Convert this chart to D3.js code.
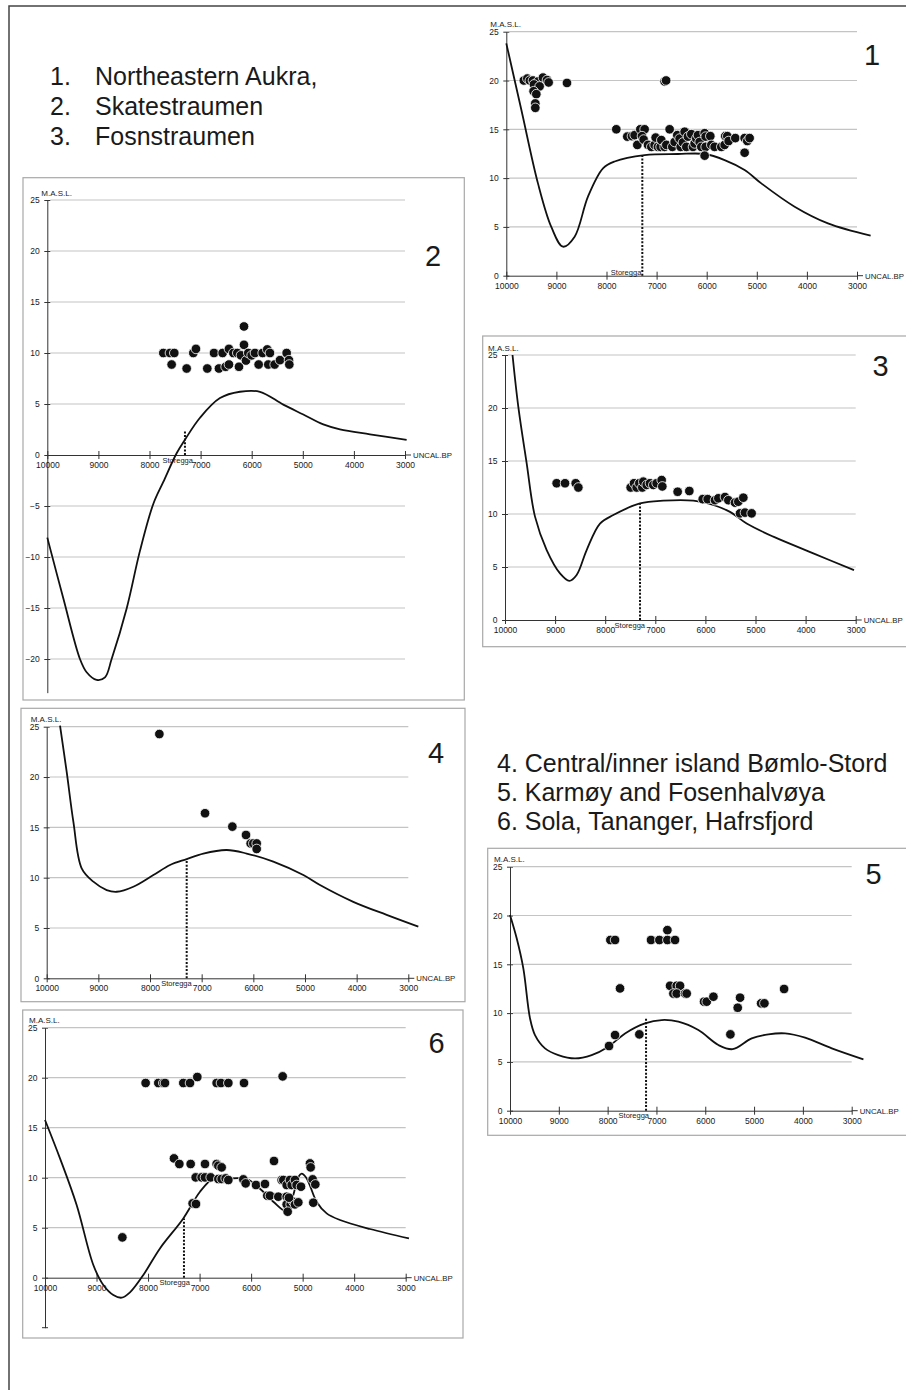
<!DOCTYPE html>
<html>
<head>
<meta charset="utf-8">
<script src="https://cdn.jsdelivr.net/npm/d3@7"></script>
<style>
  body { margin: 0; background: #fff; }
  text { font-family: "Liberation Sans", Arial, sans-serif; fill: #1a1a1a; }
</style>
</head>
<body>
<svg id="fig" width="906" height="1390"></svg>
<script>
// ---- data ----
const yearTicks = [10000, 9000, 8000, 7000, 6000, 5000, 4000, 3000];
const heightTicks = [0, 5, 10, 15, 20, 25];
const deepTicks = [-20, -15, -10, -5, 0, 5, 10, 15, 20, 25];
const regionsLeft = ["Northeastern Aukra,", "Skatestraumen", "Fosnstraumen"];
const regionsRight = ["4. Central/inner island Bømlo-Stord", "5. Karmøy and Fosenhalvøya", "6. Sola, Tananger, Hafrsfjord"];
const storeggaYear = [7285, 7306, 7305, 7290, 7213, 7303];
const storeggaTop = [12.36, 2.4, 11.0, 11.85, 9.5, 5.93];

// 1. Northeastern Aukra
const curve1 = [[10000,23.8],[9700,17],[9368,9.46],[9102,5.0],[8869,2.97],[8636,4.0],[8370,8.1],[8070,11.0],[7838,11.7],[7239,12.36],[6574,12.47],[6041,12.47],[5642,11.85],[5243,10.83],[4910,9.46],[4245,7.07],[3580,5.36],[2728,4.1]];
const sites1 = [[9650,20.0],[9580,20.2],[9530,20.0],[9468,20.0],[9368,19.9],[9268,20.3],[9188,20.05],[9155,19.8],[9448,19.6],[9335,19.4],[9455,18.9],[9401,18.6],[9421,17.65],[9421,17.2],[8789,19.75],[6840,19.9],[6810,20.0],
  [7804,15.0],[7585,14.25],[7492,14.3],[7438,14.4],[7385,13.4],[7325,15.0],[7239,15.0],[7292,14.3],[7259,13.95],[7172,13.4],[7106,13.2],[7040,13.4],[7019,14.15],[6973,13.2],[6920,13.2],[6906,13.9],[6840,13.2],[6806,13.4],[6740,15.0],[6687,13.2],[6640,13.7],[6587,14.4],[6540,14.05],[6520,13.2],[6474,13.65],[6440,14.75],[6407,13.2],[6374,14.25],[6307,14.5],[6274,13.2],[6241,13.55],[6207,14.05],[6174,14.4],[6141,13.7],[6108,13.2],[6041,14.6],[6021,14.25],[6021,13.2],[5928,14.3],[5908,13.4],[6041,12.3],[5842,13.2],[5709,13.2],[5642,13.4],[5629,14.3],[5589,14.3],[5562,13.8],[5429,14.1],[5243,14.1],[5243,12.6],[5190,13.8],[5143,14.1]];

// 2. Skatestraumen
const curve2 = [[10000,-8.1],[9687,-14.05],[9361,-20.0],[9230,-21.3],[9035,-22.05],[8871,-21.8],[8741,-20.0],[8447,-15.04],[8187,-9.4],[7926,-4.8],[7730,-2.64],[7469,0.17],[7306,1.5],[7012,3.65],[6621,5.58],[6230,6.2],[5838,6.2],[5382,4.94],[4990,3.97],[4599,3.0],[4273,2.52],[3686,2.03],[2968,1.48]];
const sites2 = [[7730,10.0],[7600,10.0],[7515,10.0],[7567,8.87],[7273,8.48],[7143,10.0],[7091,10.4],[6869,8.48],[6738,10.0],[6641,8.48],[6569,10.0],[6510,8.65],[6445,10.4],[6445,8.87],[6360,10.0],[6282,10.0],[6249,8.65],[6210,9.77],[6151,12.6],[6151,10.8],[6112,9.26],[6067,10.0],[6001,9.77],[5936,10.0],[5864,8.87],[5786,10.0],[5695,10.35],[5675,8.87],[5643,10.0],[5551,8.87],[5447,9.3],[5316,10.0],[5271,9.3],[5264,8.87]];

// 3. Fosnstraumen
const curve3 = [[9850,25.0],[9734,20.1],[9568,14.8],[9401,9.75],[9168,6.6],[8902,4.4],[8716,3.7],[8570,4.25],[8370,6.6],[8104,9.1],[7838,9.9],[7305,11.0],[6840,11.26],[6241,11.26],[5842,10.85],[5509,10.2],[5176,9.1],[4644,7.86],[3846,6.29],[3034,4.7]];
const sites3 = [[8969,12.9],[8802,12.9],[8589,12.9],[8536,12.5],[7492,12.5],[7425,12.9],[7372,12.5],[7319,12.9],[7259,12.5],[7239,13.05],[7172,12.74],[7106,12.9],[7040,12.74],[6973,12.9],[6873,13.2],[6860,12.6],[6554,12.1],[6321,12.17],[6054,11.4],[5955,11.4],[5808,11.3],[5742,11.48],[5609,11.6],[5542,11.3],[5409,11.07],[5343,11.16],[5243,11.54],[5309,10.06],[5210,10.13],[5077,10.06]];

// 4. Central/inner island Bømlo-Stord
const curve4 = [[9742,25.1],[9613,20.5],[9484,15.56],[9323,10.93],[9097,9.6],[8839,8.77],[8645,8.6],[8323,9.1],[7935,10.26],[7613,11.26],[7290,11.85],[6968,12.4],[6516,12.75],[6129,12.4],[5613,11.6],[5032,10.26],[4710,9.27],[4065,7.6],[3419,6.3],[2806,5.13]];
const sites4 = [[7819,24.27],[6935,16.4],[6406,15.07],[6142,14.24],[6052,13.4],[6000,13.4],[5935,13.4],[5935,12.85]];

// 5. Karmøy and Fosenhalvøya
const curve5 = [[10000,20.05],[9863,17.66],[9727,14.58],[9590,9.46],[9488,7.75],[9283,6.39],[9010,5.7],[8668,5.36],[8327,5.7],[7985,6.56],[7643,7.92],[7234,8.95],[6892,9.29],[6551,9.12],[6141,8.26],[5731,6.73],[5440,6.3],[5048,7.41],[4706,7.82],[4365,7.92],[3955,7.48],[3408,6.39],[2760,5.26]];
const sites5 = [[7971,6.63],[7848,7.75],[7944,17.49],[7848,17.49],[7746,12.53],[7350,7.82],[7111,17.49],[6940,17.49],[6776,18.5],[6776,17.49],[6619,17.49],[6721,12.8],[6585,12.8],[6516,12.8],[6653,12.0],[6585,12.0],[6414,12.0],[6380,12.0],[6025,11.17],[5970,11.17],[5833,11.68],[5485,7.82],[5335,10.55],[5287,11.58],[4856,11.0],[4788,11.0],[4385,12.47]];

// 6. Sola, Tananger, Hafrsfjord
const curve6 = [[10000,15.77],[9709,11.93],[9386,7.27],[9062,1.27],[8868,-0.73],[8674,-1.73],[8512,-2.0],[8351,-1.47],[8092,0.27],[7769,2.93],[7316,5.93],[6992,8.6],[6733,9.93],[6604,9.87],[6087,9.87],[5828,8.9],[5569,7.6],[5300,6.6],[5180,8.3],[5080,10.1],[5020,10.4],[4930,10.0],[4858,9.2],[4729,7.6],[4534,6.43],[4276,5.77],[3693,4.87],[2937,3.93]];
const sites6 = [[8047,19.47],[7801,19.47],[7704,19.47],[7671,19.47],[7316,19.47],[7186,19.47],[7044,20.07],[6669,19.47],[6585,19.47],[6442,19.47],[6138,19.47],[5388,20.13],[8499,4.03],
  [7497,11.93],[7393,11.37],[7173,11.37],[6895,11.37],[6669,11.37],[6636,11.2],[6572,11.03],[7076,10.03],[6960,10.03],[6895,10.03],[6785,10.03],[6636,9.87],[6572,9.87],[6494,9.93],[6442,9.77],[7135,7.43],[7070,7.37],[6151,9.83],[6106,9.43],[5905,9.27],[5731,9.37],[5686,8.2],[5634,8.2],[5556,11.67],[5472,8.1],[5310,8.1],
  [5407,9.77],[5375,9.77],[5310,9.27],[5246,9.77],[5213,9.27],[5149,9.77],[5117,9.27],[5032,9.1],[5310,7.33],[5233,7.33],[5181,7.6],[5149,7.33],[5084,7.53],[5291,6.6],[5265,8.0],[4858,11.43],[4845,11.03],[4806,9.83],[4754,9.33],[4793,7.5]];

// ---- layout ----
const panels = [
  { id: 1, curve: curve1, sites: sites1, x0: 506.3, x1: 857, yTop: 31.7, yZero: 275.7, yMin: 0, ticks: heightTicks, frame: null,
    num: [872, 65], maslDx: -16, sDx: -1, sDy: -1 },
  { id: 2, curve: curve2, sites: sites2, x0: 47.3, x1: 405, yTop: 200, yZero: 455, yMin: -23.3, ticks: deepTicks, frame: [23, 177.7, 441.3, 522.3],
    num: [433, 265.7], maslDx: -6, sDx: 8, sDy: 8 },
  { id: 3, curve: curve3, sites: sites3, x0: 505, x1: 855.7, yTop: 355, yZero: 620, yMin: 0, ticks: heightTicks, frame: [482.7, 336, 440, 310.7],
    num: [880.5, 375.7], maslDx: -17, sDx: 5, sDy: 8 },
  { id: 4, curve: curve4, sites: sites4, x0: 46.7, x1: 408.3, yTop: 726.7, yZero: 978.3, yMin: 0, ticks: heightTicks, frame: [21, 708.3, 444, 293.4],
    num: [436, 763.3], maslDx: -16, sDx: 5, sDy: 8 },
  { id: 5, curve: curve5, sites: sites5, x0: 510, x1: 851.7, yTop: 866.7, yZero: 1110.7, yMin: 0, ticks: heightTicks, frame: [487.7, 848.3, 440, 287],
    num: [873.5, 884.3], maslDx: -16, sDx: 3, sDy: 7.5 },
  { id: 6, curve: curve6, sites: sites6, x0: 45, x1: 405.7, yTop: 1027.7, yZero: 1277.7, yMin: -5, ticks: heightTicks, frame: [22.7, 1010, 440.3, 328],
    num: [436.5, 1053.3], maslDx: -16, sDx: 6, sDy: 7 }
];

const svg = d3.select("#fig");

// outer frame
svg.append("rect")
  .attr("x", 9).attr("y", 6).attr("width", 1000).attr("height", 1500)
  .attr("fill", "none").attr("stroke", "#444").attr("stroke-width", 1.5);

// region lists
const leftList = svg.append("g").attr("class", "list-left");
regionsLeft.forEach((name, i) => {
  leftList.append("text").attr("x", 50).attr("y", 85 + i * 30).attr("font-size", 25).text((i + 1) + ".");
  leftList.append("text").attr("x", 95).attr("y", 85 + i * 30).attr("font-size", 25).text(name);
});
svg.append("g").attr("class", "list-right")
  .selectAll("text").data(regionsRight).enter().append("text")
  .attr("x", 497).attr("y", (d, i) => 771.7 + i * 29.2)
  .attr("font-size", 25).text(d => d);

function drawPanel(p, idx) {
  const unit = (p.yZero - p.yTop) / 25;
  const x = d3.scaleLinear().domain([10000, 3000]).range([p.x0, p.x1]);
  const y = d3.scaleLinear().domain([p.yMin, 25]).range([p.yZero - p.yMin * unit, p.yTop]);

  const g = svg.append("g").attr("class", "panel-" + p.id);

  if (p.frame) {
    g.append("rect")
      .attr("x", p.frame[0]).attr("y", p.frame[1])
      .attr("width", p.frame[2]).attr("height", p.frame[3])
      .attr("fill", "none").attr("stroke", "#a8a8a8").attr("stroke-width", 1.2);
  }

  // gridlines
  g.append("g").attr("class", "grid")
    .selectAll("line").data(p.ticks.filter(d => d !== 0)).enter().append("line")
    .attr("x1", p.x0 + 3).attr("x2", p.x1)
    .attr("y1", d => y(d)).attr("y2", d => y(d))
    .attr("stroke", "#c4c4c4").attr("stroke-width", 1.2);

  // y axis
  const yAxis = g.append("g").attr("class", "y-axis")
    .attr("transform", "translate(" + p.x0 + ",0)")
    .call(d3.axisLeft(y).tickValues(p.ticks).tickSize(3).tickSizeOuter(0).tickPadding(4.5));
  yAxis.select(".domain").attr("stroke", "#333");
  yAxis.selectAll(".tick line").attr("x1", 3).attr("x2", -3).attr("stroke", "#333");
  yAxis.selectAll(".tick text").attr("font-size", 8.5).attr("font-family", "Liberation Sans, Arial, sans-serif").attr("fill", "#1a1a1a");
  if (p.yMin === -5) {
    g.append("line").attr("x1", p.x0 - 3).attr("x2", p.x0 + 3)
      .attr("y1", y(-5)).attr("y2", y(-5)).attr("stroke", "#333");
  }

  g.append("text").attr("x", p.x0 + p.maslDx).attr("y", y(25) - 4.5)
    .attr("font-size", 8).text("M.A.S.L.");

  // x axis
  const xAxis = g.append("g").attr("class", "x-axis")
    .attr("transform", "translate(0," + y(0) + ")")
    .call(d3.axisBottom(x).tickValues(yearTicks).tickSize(4).tickSizeOuter(0).tickPadding(3).tickFormat(d3.format("d")));
  xAxis.select(".domain").attr("stroke", "#333");
  xAxis.selectAll(".tick line").attr("y1", -4).attr("y2", 4).attr("stroke", "#333");
  xAxis.selectAll(".tick text").attr("font-size", 8.5).attr("font-family", "Liberation Sans, Arial, sans-serif").attr("fill", "#1a1a1a");
  g.append("line").attr("x1", p.x1).attr("x2", p.x1 + 6)
    .attr("y1", y(0)).attr("y2", y(0)).attr("stroke", "#333");
  g.append("text").attr("x", p.x1 + 8).attr("y", y(0) + 3)
    .attr("font-size", 7.8).text("UNCAL.BP");

  // Storegga marker
  const sx = x(storeggaYear[idx]);
  g.append("line").attr("x1", sx).attr("x2", sx)
    .attr("y1", y(0)).attr("y2", y(storeggaTop[idx]))
    .attr("stroke", "#111").attr("stroke-width", 2).attr("stroke-dasharray", "2,1.6");
  g.append("text").attr("x", sx + p.sDx).attr("y", y(0) + p.sDy)
    .attr("text-anchor", "end").attr("font-size", 7.5).text("Storegga");

  // shoreline curve
  const line = d3.line()
    .x(d => x(d[0])).y(d => y(d[1]))
    .curve(d3.curveCatmullRom.alpha(0.5));
  g.append("path").datum(p.curve)
    .attr("d", line).attr("fill", "none")
    .attr("stroke", "#111").attr("stroke-width", 1.8);

  // dated sites
  g.append("g").attr("class", "sites")
    .selectAll("circle").data(p.sites).enter().append("circle")
    .attr("cx", d => x(d[0])).attr("cy", d => y(d[1]))
    .attr("r", 4.8)
    .attr("fill", "#111").attr("stroke", "#fff").attr("stroke-width", 0.8);

  // panel number
  g.append("text").attr("x", p.num[0]).attr("y", p.num[1])
    .attr("text-anchor", "middle").attr("font-size", 29).text(p.id);
}

panels.forEach(drawPanel);
</script>
</body>
</html>
